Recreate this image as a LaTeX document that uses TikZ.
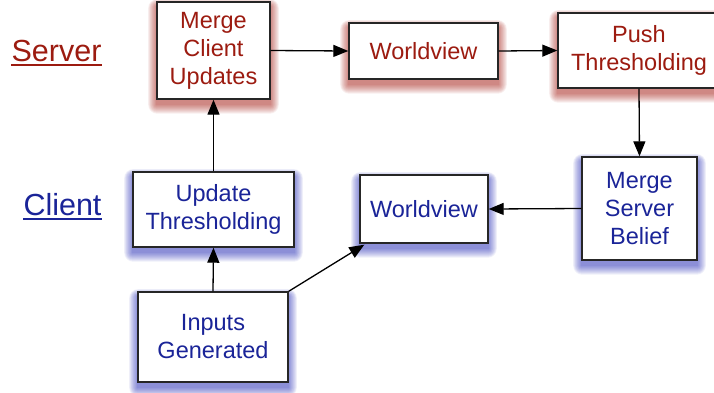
\documentclass[tikz,border=0pt]{standalone}
\usepackage{fontspec}
\setmainfont{Liberation Sans}
\usetikzlibrary{arrows.meta,backgrounds}
\definecolor{srvred}{HTML}{9C1B10}
\definecolor{clblue}{HTML}{1A2498}
\definecolor{srvglow}{HTML}{A82A22}
\definecolor{clglow}{HTML}{3036B8}
\tikzset{
  box/.style={draw=black!85, line width=1.4pt, fill=white, align=center,
    inner sep=0pt, font=\fontsize{23.5}{28}\selectfont},
  srvbox/.style={box, text=srvred},
  clbox/.style={box, text=clblue},
  flow/.style={draw=black, line width=1.3pt, -{Triangle[length=15pt,width=12pt]}},
  side/.style={inner sep=0pt, anchor=base, font=\fontsize{30.5}{36}\selectfont},
  glowstep/.style={fill=#1, fill opacity=0.08, draw=none}
}
% soft glow behind a box: stacked translucent rectangles, shifted downwards
\newcommand\boxglow[2]{%
  \foreach \r in {0,1,...,9}{%
    \fill[glowstep=#2, rounded corners=\r pt]
      ([xshift=-0.9*\r pt, yshift=-5pt-\r pt]#1.south west) rectangle
      ([xshift=0.9*\r pt, yshift=-5pt+0.8*\r pt]#1.north east);
  }%
}
\begin{document}
\begin{tikzpicture}[x=1pt,y=-1pt]
\useasboundingbox (0,0) rectangle (714,392);

% row labels
\node[side, text=srvred] (srv) at (56.5,61) {Server};
\node[side, text=clblue] (cli) at (62.5,215) {Client};
\draw[srvred, line width=2pt] ([yshift=-4pt]srv.base west) -- ([yshift=-4pt]srv.base east);
\draw[clblue, line width=2pt] ([yshift=-4pt]cli.base west) -- ([yshift=-4pt]cli.base east);

% server side
\node[srvbox, minimum width=113pt, minimum height=97pt] (mcu) at (213.5,50.5) {Merge\\Client\\Updates};
\node[srvbox, minimum width=149pt, minimum height=56pt] (swv) at (423.5,51) {Worldview};
\node[srvbox, minimum width=162pt, minimum height=75pt] (pth) at (639,50.5) {Push\\Thresholding};

% client side
\node[clbox, minimum width=115pt, minimum height=103pt] (msb) at (639.5,208.5) {Merge\\Server\\Belief};
\node[clbox, minimum width=128pt, minimum height=68pt] (cwv) at (424,209) {Worldview};
\node[clbox, minimum width=161pt, minimum height=75pt] (upd) at (213.5,209.5) {Update\\Thresholding};
\node[clbox, minimum width=150pt, minimum height=90pt] (inp) at (213,337) {Inputs\\Generated};

% glows
\begin{scope}[on background layer]
  \foreach \n in {mcu,swv,pth}{\boxglow{\n}{srvglow}}
  \foreach \n in {msb,cwv,upd,inp}{\boxglow{\n}{clglow}}
\end{scope}

% connectors
\draw[flow] (inp.north) -- (upd.south);
\draw[flow] (upd.north) -- (mcu.south);
\draw[flow] (mcu.east) -- (swv.west);
\draw[flow] (swv.east) -- (pth.west);
\draw[flow] (pth.south) -- (msb.north);
\draw[flow] (msb.west) -- (cwv.east);
\draw[flow] (inp.north east) -- ([xshift=5pt,yshift=-1pt]cwv.south west);
\end{tikzpicture}
\end{document}
